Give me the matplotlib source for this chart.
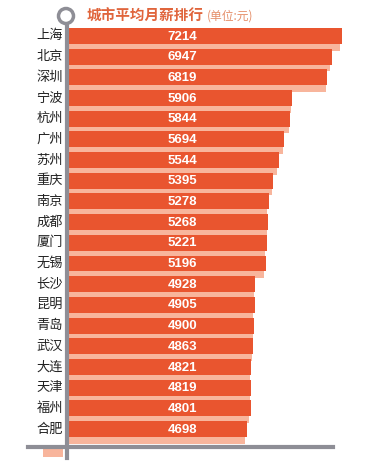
import matplotlib
matplotlib.use('Agg')
import matplotlib.pyplot as plt
from matplotlib.lines import Line2D
from matplotlib.patches import Rectangle, Ellipse

plt.rcParams['font.family'] = ['Noto Sans CJK SC', 'DejaVu Sans']

cities = ['上海', '北京', '深圳', '宁波', '杭州', '广州', '苏州', '重庆', '南京', '成都',
          '厦门', '无锡', '长沙', '昆明', '青岛', '武汉', '大连', '天津', '福州', '合肥']
salary = [7214, 6947, 6819, 5906, 5844, 5694, 5544, 5395, 5278, 5268,
          5221, 5196, 4928, 4905, 4900, 4863, 4821, 4819, 4801, 4698]

title = '城市平均月薪排行'
unit = '(单位:元)'

dark = '#E9552F'
light = '#F8B59C'
gray = '#8E8E96'

W, H = 370, 470
fig = plt.figure(figsize=(W / 100, H / 100), dpi=100)
fig.patch.set_facecolor('white')

# axes: x=0 at 69px, bar centres 36px..429px from top, bottom at 447px
ax = fig.add_axes([69 / W, 1 - 447 / H, (360 - 69) / W, (447 - 26) / H])
ax.set_xlim(0, 7690)
ax.set_ylim(19.87, -0.48)
ax.axis('off')

pos = list(range(len(cities)))
# light "shadow" strips in the gaps
ax.barh([p + 0.5 for p in pos], [v - 40 for v in salary], height=0.42, color=light, zorder=1)
ax.barh(pos, salary, height=0.77, color=dark, zorder=2)

for p, v in zip(pos, salary):
    ax.text(2990, p + 0.03, str(v), color='white', fontsize=9.5, fontweight='bold',
            family=['Liberation Sans', 'DejaVu Sans'], ha='center', va='center', zorder=3)
    ax.text(-160, p, cities[p], color='#222222', fontsize=9.5, ha='right', va='center')

# axis lines and decorations in pixel coords
def fx(px):
    return px / W

def fy(py):
    return 1 - py / H

fig.add_artist(Rectangle((fx(43), fy(457)), fx(20), 9 / H, color=light, lw=0))
fig.add_artist(Line2D([fx(28), fx(333)], [fy(447), fy(447)], color=gray, lw=3))
fig.add_artist(Line2D([fx(67), fx(67)], [fy(26), fy(458)], color=gray, lw=3))
fig.add_artist(Ellipse((fx(66), fy(16)), 15 / W, 15 / H, transform=fig.transFigure,
                       fill=False, ec=gray, lw=2.5))
fig.text(fx(87), fy(16), title, color='#E0653C', fontsize=10.5, fontweight='bold',
         ha='left', va='center')
fig.text(fx(207), fy(16), unit, color='#E58E68', fontsize=8.5, ha='left', va='center')

fig.savefig('out.png', dpi=100, facecolor='white')
